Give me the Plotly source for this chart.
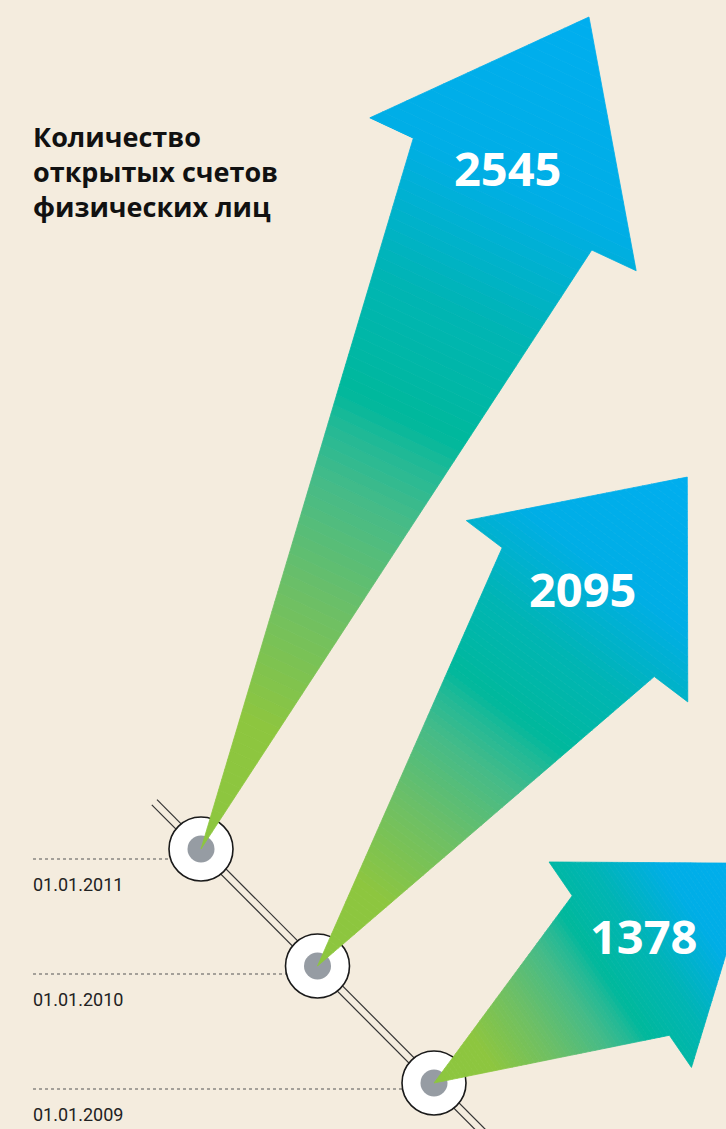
import numpy as np
import plotly.graph_objects as go

# data
dates = ["01.01.2009", "01.01.2010", "01.01.2011"]
years = [2009, 2010, 2011]
accounts = [1378, 2095, 2545]
title = "Количество<br>открытых счетов<br>физических лиц"

# arrow geometry (pixels / degrees), left / right side of the arrow
arrow_angle = [34.5, 52.9, 65.0]
arrow_len = [388, 613, 918]
base_l = [220, 445, 734]
base_r = [221, 434, 708]
shaft_l = [76, 105, 108]
shaft_r = [94, 94, 101]
barb_l = [117, 150, 156]
barb_r = [133, 136, 150]
label_dx = [11, -10, -2]

W, H = 726, 1129
BG = "#f4ecde"

grad = [(0.00, "#8dc63f"), (0.15, "#8dc63f"), (0.30, "#6cbf66"), (0.42, "#45bb88"),
        (0.48, "#22b996"), (0.52, "#00b89c"), (0.65, "#00b5b4"), (0.80, "#00aee6"),
        (1.00, "#00aeef")]


def hex2rgb(h):
    return np.array([int(h[i:i + 2], 16) for i in (1, 3, 5)], dtype=float)


def grad_color(t):
    t = min(max(t, 0), 1)
    for (t0, c0), (t1, c1) in zip(grad[:-1], grad[1:]):
        if t <= t1:
            f = 0 if t1 == t0 else (t - t0) / (t1 - t0)
            c = hex2rgb(c0) * (1 - f) + hex2rgb(c1) * f
            return "rgb(%d,%d,%d)" % tuple(np.round(c))
    return grad[-1][1]


def timeline(year):
    # position of a date on the diagonal time axis
    k = year - 2009
    return 434 - 116.5 * k, 1083 - 117 * k


def row_y(year):
    return 1089 - 115 * (year - 2009)


def clip_half(poly, f):
    out = []
    n = len(poly)
    for i in range(n):
        p, q = poly[i], poly[(i + 1) % n]
        fp, fq = f(p), f(q)
        if fp >= 0:
            out.append(p)
        if (fp >= 0) != (fq >= 0):
            t = fp / (fp - fq)
            out.append((p[0] + t * (q[0] - p[0]), p[1] + t * (q[1] - p[1])))
    return out


fig = go.Figure()
shapes = []
annotations = []

# dotted date guides + labels
for yr, d in zip(years, dates):
    cx, cy = timeline(yr)
    ry = row_y(yr)
    shapes.append(dict(type="line", x0=33, x1=cx, y0=ry, y1=ry, layer="below",
                       line=dict(color="#555", width=1, dash="dot")))
    annotations.append(dict(x=31, y=ry + 25, text=d, showarrow=False, xanchor="left",
                            yanchor="middle", font=dict(family="Roboto", size=18, color="#222")))

# double line of the time axis
x0, y0 = timeline(2011.4)
x1, y1 = timeline(2008.4)
for off in (-2.6, 2.6):
    shapes.append(dict(type="line", x0=x0 + off, y0=y0 - off, x1=x1 + off, y1=y1 - off,
                       layer="below", line=dict(color="#333", width=1.2)))

# circles
for yr in years:
    cx, cy = timeline(yr)
    shapes.append(dict(type="circle", x0=cx - 32, x1=cx + 32, y0=cy - 32, y1=cy + 32,
                       layer="below", fillcolor="white", line=dict(color="#1a1a1a", width=1.6)))
    shapes.append(dict(type="circle", x0=cx - 13.5, x1=cx + 13.5, y0=cy - 13.5, y1=cy + 13.5,
                       layer="below", fillcolor="#969ca3", line=dict(width=0)))

# gradient arrows
N = 90
for i, (yr, val) in enumerate(zip(years, accounts)):
    tx, ty = timeline(yr)
    L = arrow_len[i]
    a = np.radians(arrow_angle[i])
    u = np.array([np.cos(a), -np.sin(a)])
    nv = np.array([-np.sin(a), -np.cos(a)])
    poly = [(0, 0), (base_r[i], -shaft_r[i]), (base_r[i], -barb_r[i]), (L, 0),
            (base_l[i], barb_l[i]), (base_l[i], shaft_l[i])]
    for k in range(N):
        s0, s1 = L * k / N, L * (k + 1) / N
        p = clip_half(poly, lambda q: q[0] - s0)
        p = clip_half(p, lambda q: s1 - q[0])
        if len(p) < 3:
            continue
        xs = [tx + q[0] * u[0] + q[1] * nv[0] for q in p]
        ys = [ty + q[0] * u[1] + q[1] * nv[1] for q in p]
        c = grad_color((s0 + s1) / 2 / L)
        fig.add_trace(go.Scatter(x=xs + [xs[0]], y=ys + [ys[0]], mode="lines", fill="toself",
                                 fillcolor=c, line=dict(color=c, width=0.8),
                                 hoverinfo="skip", showlegend=False))
    base = (base_l[i] + base_r[i]) / 2
    lx = tx + (base + 27) * u[0] + 8 * nv[0] + label_dx[i]
    ly = ty + (base + 27) * u[1] + 8 * nv[1]
    annotations.append(dict(x=lx, y=ly, text="<b>%d</b>" % val, showarrow=False,
                            font=dict(family="Open Sans", size=47, color="white")))

annotations.append(dict(x=31, y=116, text="<b>" + title + "</b>", showarrow=False, xanchor="left",
                        yanchor="top", align="left",
                        font=dict(family="Open Sans", size=27, color="#111")))

fig.update_layout(
    width=W, height=H, margin=dict(l=0, r=0, t=0, b=0),
    paper_bgcolor=BG, plot_bgcolor=BG,
    xaxis=dict(range=[0, W], visible=False, fixedrange=True),
    yaxis=dict(range=[H, 0], visible=False, fixedrange=True),
    shapes=shapes, annotations=annotations, showlegend=False,
)

fig.write_html("out.html", config={"displayModeBar": False},
               post_script="document.body.style.margin='0';")
